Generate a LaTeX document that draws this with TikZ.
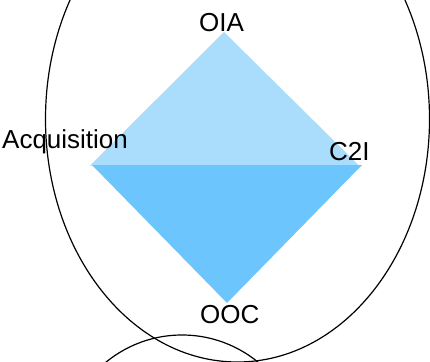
\documentclass[tikz,border=0pt]{standalone}
\usepackage{fontspec}
\setmainfont{Liberation Sans}
\usepackage{xcolor}
\usepackage{tikz}
\definecolor{lightsky}{HTML}{AADCFC}
\definecolor{midsky}{HTML}{6CC5FD}
\tikzset{every node/.append style={font=\fontsize{26}{30}\selectfont}}

\begin{document}
\begin{tikzpicture}[x=1pt, y=-1pt]
    \useasboundingbox (0,0) rectangle (430,361);
    \clip (0,0) rectangle (430,361);

    % Corners of the diamond
    \coordinate (top) at (224,32);
    \coordinate (upleft) at (90,165.5);
    \coordinate (upright) at (359,165.5);
    \coordinate (lowleft) at (92,165);
    \coordinate (lowright) at (362,165);
    \coordinate (bottom) at (227,303);

    % Two halves in palette colors
    \fill[color=lightsky] (upleft) -- (top) -- (upright) -- cycle;
    \fill[color=midsky] (lowleft) -- (lowright) -- (bottom) -- cycle;

    % Outlines
    \draw[line width=1.2pt] (237.5,119) ellipse [x radius=192, y radius=243];
    \draw[line width=1.2pt] (182,455) circle (120);

    % Corner labels
    \node[anchor=base west, inner sep=0pt] (oia) at (199,32) {OIA};
    \node[anchor=base west, inner sep=0pt] (acq) at (2,148) {Acquisition};
    \node[anchor=base west, inner sep=0pt] (c2i) at (329,160) {C2I};
    \node[anchor=base west, inner sep=0pt] (ooc) at (200,323) {OOC};
\end{tikzpicture}
\end{document}
